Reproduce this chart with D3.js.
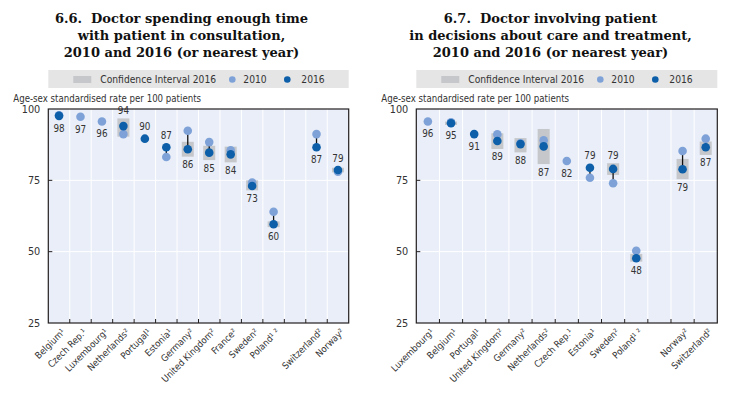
<!DOCTYPE html>
<html><head><meta charset="utf-8">
<script src="https://cdn.jsdelivr.net/npm/d3@7"></script>
<style>
body{margin:0;background:#fff;}
svg{display:block;}
</style></head><body>
<svg id="chart" width="742" height="394"></svg>
<script>
// ---------- data ----------
const yTicks = [25, 50, 75, 100];
const legendLabels = ["Confidence Interval 2016", "2010", "2016"];
const yAxisTitle = "Age-sex standardised rate per 100 patients";

// Figure 6.6
const title66 = ["6.6.\u00a0 Doctor spending enough time", "with patient in consultation,", "2010 and 2016 (or nearest year)"];
const countries66 = ["Belgium¹", "Czech Rep.¹", "Luxembourg¹", "Netherlands²", "Portugal¹", "Estonia¹", "Germany²", "United Kingdom²", "France²", "Sweden²", "Poland¹ ²", "", "Switzerland²", "Norway²"];
const y2010_66 = [97.8, 97.3, 95.6, 91.2, null, 83.2, 92.4, 88.4, 85.5, 74.2, 64.0, null, 91.2, 78.0];
const y2016_66 = [97.6, null, null, 94.0, 89.6, 86.6, 85.9, 84.7, 84.1, 73.0, 59.6, null, 86.6, 78.6];
const ciLow66  = [null, null, null, 90.3, null, null, 83.3, 82.1, 81.3, 71.5, 58.6, null, null, 77.8];
const ciHigh66 = [null, null, null, 96.7, null, null, 88.5, 87.1, 86.8, 75.0, 60.6, null, null, 79.4];
const labelSide66 = ["below", "below", "below", "above", "above", "above", "below", "below", "below", "below", "below", null, "below", "above"];

// Figure 6.7
const title67 = ["6.7.\u00a0 Doctor involving patient", "in decisions about care and treatment,", "2010 and 2016 (or nearest year)"];
const countries67 = ["Luxembourg¹", "Belgium¹", "Portugal¹", "United Kingdom²", "Germany²", "Netherlands²", "Czech Rep.¹", "Estonia¹", "Sweden²", "Poland¹ ²", "", "Norway²", "Switzerland²"];
const y2010_67 = [95.6, 95.3, null, 91.1, 88.0, 89.0, 81.8, 75.9, 74.0, 50.3, null, 85.3, 89.6];
const y2016_67 = [null, 95.0, 91.2, 88.8, 87.7, 86.9, null, 79.4, 79.0, 47.7, null, 78.9, 86.6];
const ciLow67  = [null, 94.4, null, 86.0, 84.8, 80.7, null, null, 76.9, 46.5, null, 75.4, 83.9];
const ciHigh67 = [null, 95.6, null, 91.5, 89.8, 93.0, null, null, 81.0, 49.2, null, 82.5, 88.6];
const labelSide67 = ["below", "below", "below", "below", "below", "below", "below", "above", "above", "below", null, "below", "below"];

// ---------- style ----------
const C = {
  bg: "#e9eef8", grid: "#ffffff", frame: "#231f20", ci: "#c5c7ca",
  c2010: "#7ea2d8", c2016: "#0d5fa9", legendBg: "#e5e5e5", text: "#333333"
};
const narrow = "'Liberation Sans Narrow','DejaVu Sans Condensed',Arial,sans-serif";
const serif = "'DejaVu Serif',Georgia,serif";

const svg = d3.select("#chart");

function panel(opt) {
  const {x0, x1, titleCx, titleLines, cats, v2010, v2016, lo, hi, side} = opt;
  const top = 109, bottom = 323;
  const g = svg.append("g");

  // title
  g.append("text")
    .attr("text-anchor", "middle")
    .attr("font-family", serif).attr("font-weight", "bold").attr("font-size", 13)
    .attr("fill", "#111")
    .selectAll("tspan").data(titleLines).join("tspan")
    .attr("x", titleCx).attr("y", (d, i) => 22.5 + i * 17).text(d => d);

  // legend
  const lg = g.append("g");
  lg.append("rect").attr("x", x0).attr("y", 70).attr("width", x1 - x0).attr("height", 18).attr("fill", C.legendBg);
  lg.append("rect").attr("x", x0 + 25).attr("y", 76).attr("width", 18).attr("height", 7).attr("fill", C.ci);
  lg.append("text").attr("x", x0 + 52).attr("y", 83).text(legendLabels[0]);
  lg.append("circle").attr("cx", x0 + 184).attr("cy", 79.5).attr("r", 3.3).attr("fill", C.c2010);
  lg.append("text").attr("x", x0 + 195).attr("y", 83).text(legendLabels[1]);
  lg.append("circle").attr("cx", x0 + 239).attr("cy", 79.5).attr("r", 3.3).attr("fill", C.c2016);
  lg.append("text").attr("x", x0 + 253).attr("y", 83).text(legendLabels[2]);
  lg.selectAll("text").attr("font-family", narrow).attr("font-size", 10.2).attr("fill", C.text);

  // axis title
  g.append("text").attr("x", x0 - 35).attr("y", 101.5)
    .attr("font-family", narrow).attr("font-size", 9.6).attr("fill", C.text).text(yAxisTitle);

  const keys = cats.map((d, i) => i);
  const x = d3.scaleBand().domain(keys).range([x0, x1]);
  const y = d3.scaleLinear().domain([25, 100]).range([bottom, top]);

  g.append("rect").attr("x", x0).attr("y", top).attr("width", x1 - x0).attr("height", bottom - top).attr("fill", C.bg);

  // gridlines
  g.append("g").selectAll("line").data(keys.slice(1)).join("line")
    .attr("x1", d => x(d)).attr("x2", d => x(d)).attr("y1", top).attr("y2", bottom)
    .attr("stroke", C.grid).attr("stroke-width", 1);
  g.append("g").selectAll("line").data(yTicks.slice(1, -1)).join("line")
    .attr("x1", x0).attr("x2", x1).attr("y1", d => y(d)).attr("y2", d => y(d))
    .attr("stroke", C.grid).attr("stroke-width", 1);

  const cx = i => x(i) + x.bandwidth() / 2;

  // CI boxes
  g.append("g").selectAll("rect").data(keys.filter(i => lo[i] != null)).join("rect")
    .attr("x", i => cx(i) - 6).attr("width", 12)
    .attr("y", i => y(hi[i])).attr("height", i => y(lo[i]) - y(hi[i]))
    .attr("fill", C.ci);

  // connectors
  g.append("g").selectAll("line").data(keys.filter(i => v2010[i] != null && v2016[i] != null)).join("line")
    .attr("x1", cx).attr("x2", cx).attr("y1", i => y(v2010[i])).attr("y2", i => y(v2016[i]))
    .attr("stroke", "#111").attr("stroke-width", 1.3);

  // dots
  g.append("g").selectAll("circle").data(keys.filter(i => v2010[i] != null)).join("circle")
    .attr("cx", cx).attr("cy", i => y(v2010[i])).attr("r", 4.3).attr("fill", C.c2010);
  g.append("g").selectAll("circle").data(keys.filter(i => v2016[i] != null)).join("circle")
    .attr("cx", cx).attr("cy", i => y(v2016[i])).attr("r", 4.3).attr("fill", C.c2016);

  // value labels
  g.append("g").selectAll("text").data(keys.filter(i => side[i])).join("text")
    .attr("x", cx)
    .attr("y", i => {
      const dotVals = [v2010[i], v2016[i]].filter(v => v != null);
      if (side[i] === "above") {
        const t = Math.min(d3.min(dotVals, v => y(v) - 4.3), hi[i] != null ? y(hi[i]) : Infinity);
        return t - 4;
      } else {
        const b = Math.max(d3.max(dotVals, v => y(v) + 4.3), lo[i] != null ? y(lo[i]) : -Infinity);
        return b + 11.5;
      }
    })
    .attr("text-anchor", "middle").attr("font-family", narrow).attr("font-size", 9.8).attr("fill", C.text)
    .text(i => Math.round(v2016[i] != null ? v2016[i] : v2010[i]));

  // frame
  g.append("rect").attr("x", x0).attr("y", top).attr("width", x1 - x0).attr("height", bottom - top)
    .attr("fill", "none").attr("stroke", C.frame).attr("stroke-width", 1.2);

  // y axis ticks & labels
  const ya = g.append("g");
  ya.selectAll("line").data(yTicks.slice(1, -1)).join("line")
    .attr("x1", x0).attr("x2", x0 + 4).attr("y1", d => y(d)).attr("y2", d => y(d))
    .attr("stroke", C.frame).attr("stroke-width", 1);
  ya.selectAll("text").data(yTicks).join("text")
    .attr("x", x0 - 8).attr("y", d => y(d)).attr("dy", "0.35em")
    .attr("text-anchor", "end").attr("font-family", narrow).attr("font-size", 10.8).attr("fill", C.text)
    .text(d => d);

  // x ticks & labels
  g.append("g").selectAll("line").data(keys.slice(1)).join("line")
    .attr("x1", d => x(d)).attr("x2", d => x(d)).attr("y1", bottom).attr("y2", bottom - 4)
    .attr("stroke", C.frame).attr("stroke-width", 1);
  g.append("g").selectAll("text").data(keys.filter(i => cats[i] !== "")).join("text")
    .attr("transform", i => `translate(${cx(i) + 2},${bottom + 5}) rotate(-45)`)
    .attr("text-anchor", "end").attr("dy", "0.7em")
    .attr("font-family", narrow).attr("font-size", 9.4).attr("fill", C.text)
    .text(i => cats[i]);
}

panel({x0: 48.3, x1: 348.7, titleCx: 181.5, titleLines: title66, cats: countries66,
  v2010: y2010_66, v2016: y2016_66, lo: ciLow66, hi: ciHigh66, side: labelSide66});
panel({x0: 416.3, x1: 717.3, titleCx: 550.5, titleLines: title67, cats: countries67,
  v2010: y2010_67, v2016: y2016_67, lo: ciLow67, hi: ciHigh67, side: labelSide67});
</script>
</body></html>
